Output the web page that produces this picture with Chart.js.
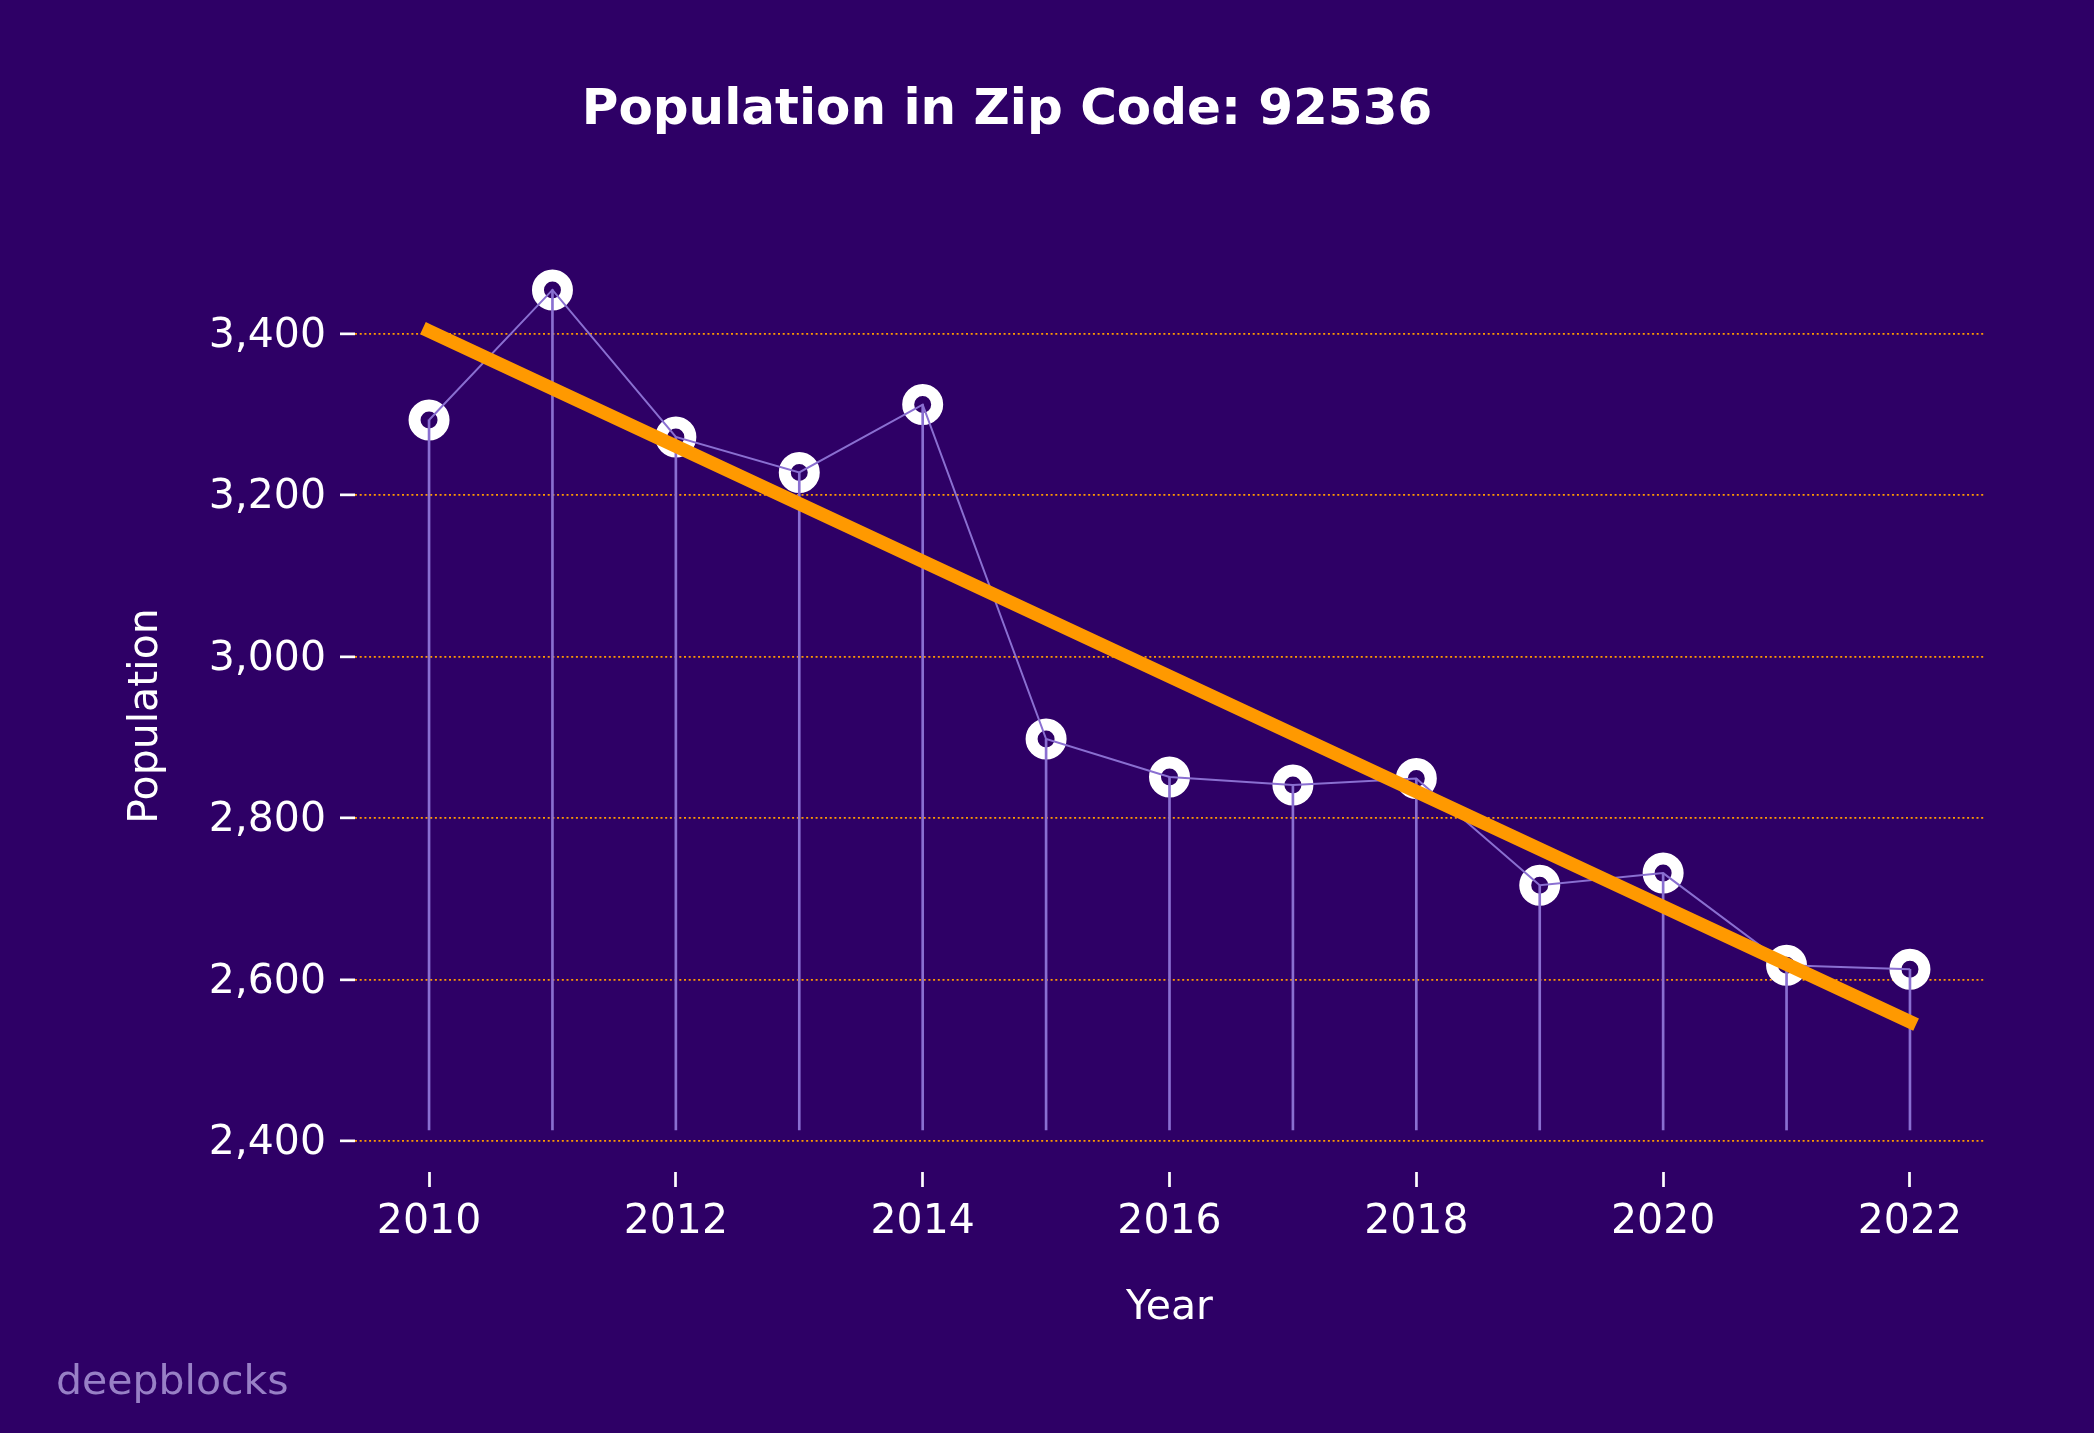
<!DOCTYPE html>
<html>
<head>
<meta charset="utf-8">
<title>Population in Zip Code: 92536</title>
<script src="https://cdn.jsdelivr.net/npm/chart.js@4.4.1/dist/chart.umd.min.js"></script>
<style>
  html, body { margin: 0; padding: 0; background: #2e0066; }
  #wrap { position: relative; width: 2094px; height: 1433px; overflow: hidden; }
  #chart { position: absolute; left: 0; top: 0; }
  #title {
    position: absolute; left: 0; top: 82px; width: 2014px;
    text-align: center; color: #fff;
    font: bold 50px/1 "DejaVu Sans", sans-serif;
  }
  #brand {
    position: absolute; left: 56px; top: 1360px;
    color: #9880c6; font: 41px/1 "DejaVu Sans", sans-serif;
  }
</style>
</head>
<body>
<div id="wrap">
  <canvas id="chart" width="2094" height="1433"></canvas>
  <div id="title">Population in Zip Code: 92536</div>
  <div id="brand">deepblocks</div>
</div>
<script>
// population per year
const years = [2010, 2011, 2012, 2013, 2014, 2015, 2016, 2017, 2018, 2019, 2020, 2021, 2022];
const population = [3293, 3454, 3272, 3228, 3312, 2898, 2851, 2841, 2849, 2717, 2732, 2618, 2613];

// trend line end points
const trendYears = [2010, 2022];
const trendValues = [3403, 2548];

// stems start here (bottom of the vlines)
const stemBase = 2414;

const xTicks = [2010, 2012, 2014, 2016, 2018, 2020, 2022];
const yTicks = [2400, 2600, 2800, 3000, 3200, 3400];
const xRange = [2009.4, 2022.6];
const yRange = [2362, 3491];

const BG = '#2e0066';
const STEM = '#8a6fd1';
const ORANGE = '#ff9900';

Chart.defaults.font.family = '"DejaVu Sans", sans-serif';
Chart.defaults.color = '#ffffff';

const points = years.map((x, i) => ({ x, y: population[i] }));
const stems = years.map((x, i) => ({ x, y: [stemBase, population[i]] }));
const trend = trendYears.map((x, i) => ({ x, y: trendValues[i] }));

new Chart(document.getElementById('chart'), {
  type: 'line',
  data: {
    datasets: [
      {
        label: 'Trend',
        data: trend,
        borderColor: ORANGE,
        borderWidth: 13.5,
        borderCapStyle: 'square',
        pointRadius: 0,
        order: 0
      },
      {
        label: 'Population',
        data: points,
        borderColor: STEM,
        borderWidth: 2,
        pointRadius: 0,
        order: 1
      },
      {
        type: 'bar',
        label: 'Stems',
        data: stems,
        backgroundColor: STEM,
        barThickness: 2,
        order: 2
      },
      {
        label: 'Markers',
        data: points,
        showLine: false,
        pointRadius: 14.5,
        pointBorderWidth: 12,
        pointBorderColor: '#ffffff',
        pointBackgroundColor: BG,
        order: 3
      }
    ]
  },
  options: {
    responsive: false,
    animation: false,
    devicePixelRatio: 1,
    layout: { padding: { left: 100, right: 110, top: 260, bottom: 99.6 } },
    plugins: {
      legend: { display: false },
      tooltip: { enabled: false },
      title: { display: false }
    },
    scales: {
      x: {
        type: 'linear',
        bounds: 'data',
        offset: false,
        min: xRange[0],
        max: xRange[1],
        afterBuildTicks: s => { s.ticks = xTicks.map(v => ({ value: v })); },
        afterFit: s => { s.height = 161.4; },
        ticks: {
          color: '#ffffff',
          font: { size: 41, lineHeight: 1.2 },
          padding: 10.5,
          autoSkip: false,
          maxRotation: 0,
          callback: v => String(v)
        },
        grid: {
          offset: false,
          drawOnChartArea: false,
          drawTicks: true,
          tickLength: 15,
          tickWidth: 2.7,
          tickColor: '#ffffff'
        },
        border: { display: false },
        title: {
          display: true,
          text: 'Year',
          color: '#ffffff',
          font: { size: 41, lineHeight: 1.2 },
          padding: { top: 0, bottom: 0 }
        }
      },
      y: {
        type: 'linear',
        bounds: 'data',
        beginAtZero: false,
        min: yRange[0],
        max: yRange[1],
        afterBuildTicks: s => { s.ticks = yTicks.map(v => ({ value: v })); },
        afterFit: s => { s.width = 255; },
        ticks: {
          color: '#ffffff',
          font: { size: 41, lineHeight: 1.2 },
          padding: 14,
          labelOffset: 2.5,
          callback: v => v.toLocaleString('en-US')
        },
        grid: {
          color: ORANGE,
          lineWidth: 1.7,
          drawTicks: true,
          tickLength: 15,
          tickWidth: 2.7,
          tickColor: '#ffffff'
        },
        border: { display: false, dash: [2, 2.7] },
        title: {
          display: true,
          text: 'Population',
          color: '#ffffff',
          font: { size: 41, lineHeight: 1.2 },
          padding: { top: 21.4, bottom: 0 }
        }
      }
    }
  }
});
</script>
</body>
</html>
